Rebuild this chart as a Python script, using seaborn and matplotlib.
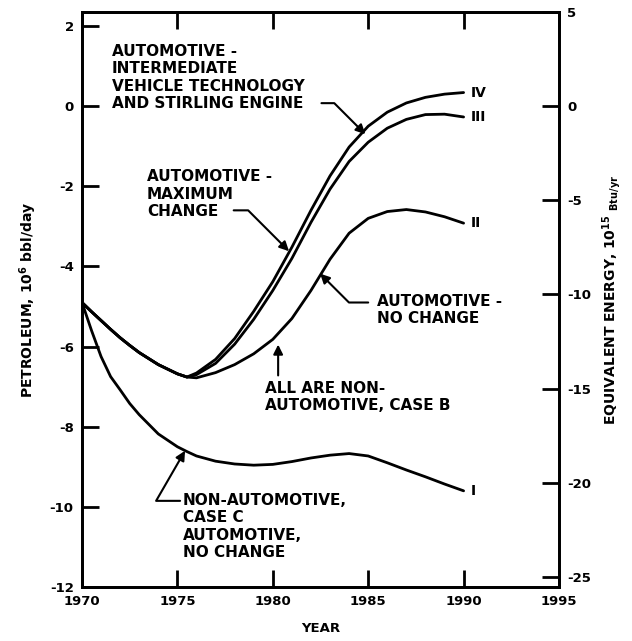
import matplotlib
matplotlib.use("Agg")
import matplotlib.pyplot as plt
import seaborn as sns
import pandas as pd

# ---- data ----
years = [1970, 1970.5, 1971, 1971.5, 1972, 1972.5, 1973, 1974, 1975, 1975.5,
         1976, 1977, 1978, 1979, 1980, 1981, 1982, 1983, 1984, 1985,
         1986, 1987, 1988, 1989, 1990]
curve_IV = [-4.9, -5.13, -5.35, -5.57, -5.78, -5.97, -6.15, -6.45, -6.68, -6.76,
            -6.66, -6.32, -5.8, -5.12, -4.38, -3.52, -2.6, -1.74, -1.02, -0.5,
            -0.15, 0.08, 0.22, 0.3, 0.34]
curve_III = [-4.9, -5.13, -5.35, -5.57, -5.78, -5.97, -6.15, -6.45, -6.68, -6.76,
             -6.7, -6.42, -5.94, -5.32, -4.6, -3.8, -2.9, -2.07, -1.38, -0.9,
             -0.55, -0.33, -0.21, -0.2, -0.27]
curve_II = [-4.9, -5.13, -5.35, -5.57, -5.78, -5.97, -6.15, -6.45, -6.68, -6.76,
            -6.78, -6.65, -6.45, -6.18, -5.82, -5.3, -4.6, -3.82, -3.17, -2.8,
            -2.63, -2.58, -2.64, -2.76, -2.92]
curve_I = [-4.9, -5.6, -6.25, -6.75, -7.08, -7.42, -7.7, -8.18, -8.5, -8.62,
           -8.73, -8.86, -8.93, -8.96, -8.94, -8.87, -8.78, -8.71, -8.67, -8.73,
           -8.9, -9.08, -9.25, -9.43, -9.6]
curve_names = ["I", "II", "III", "IV"]
left_ticks = [-12, -10, -8, -6, -4, -2, 0, 2]
right_ticks = [-25, -20, -15, -10, -5, 0, 5]
x_ticks = [1970, 1975, 1980, 1985, 1990, 1995]

series = {"I": curve_I, "II": curve_II, "III": curve_III, "IV": curve_IV}
df = pd.concat([pd.DataFrame({"year": years, "value": v, "curve": k})
                for k, v in series.items()], ignore_index=True)

sns.set_style("ticks")
plt.rcParams["font.family"] = ["DejaVu Sans"]
plt.rcParams["font.weight"] = "bold"
for key in ["text.color", "axes.labelcolor", "xtick.color", "ytick.color", "axes.edgecolor"]:
    plt.rcParams[key] = "black"

fig = plt.figure(figsize=(6.32, 6.41), dpi=100)
ax = fig.add_axes([82 / 632, 1 - 587 / 641, (559 - 82) / 632, (587 - 12) / 641])

sns.lineplot(data=df, x="year", y="value", hue="curve", hue_order=curve_names,
             palette=["black"] * 4, estimator=None, legend=False,
             linewidth=2.0, ax=ax)

ax.set_xlim(1970, 1995)
ax.set_ylim(-12, 2.35)
ax.set_xticks(x_ticks)
ax.set_xticklabels([str(t) for t in x_ticks])
ax.set_yticks(left_ticks)
ax.set_yticklabels([str(t) for t in left_ticks])
for s in ax.spines.values():
    s.set_linewidth(2.0)
    s.set_visible(True)
ax.tick_params(direction="in", length=12, width=2, top=True, labelsize=9.5, pad=6)
ax.set_xlabel("YEAR", fontsize=9.5, fontweight="bold", labelpad=10)
ax.set_ylabel("PETROLEUM, 10$^{6}$ bbl/day", fontsize=10, fontweight="bold", labelpad=8)

ax2 = ax.twinx()
factor = 2.128
ax2.set_ylim(-12 * factor, 2.35 * factor)
ax2.set_yticks(right_ticks)
ax2.set_yticklabels([str(t) for t in right_ticks])
ax2.tick_params(direction="in", length=12, width=2, labelsize=9.5, pad=6)
for s in ax2.spines.values():
    s.set_linewidth(2.0)
ax2.set_ylabel("EQUIVALENT ENERGY, 10$^{15}$ $_{\\mathrm{Btu/yr}}$", fontsize=10,
               fontweight="bold", labelpad=6)

tk = dict(fontsize=11, fontweight="bold", va="top", ha="left", linespacing=1.2)
ax.text(1971.57, 1.55, "AUTOMOTIVE -\nINTERMEDIATE\nVEHICLE TECHNOLOGY\nAND STIRLING ENGINE", **tk)
ax.text(1973.4, -1.58, "AUTOMOTIVE -\nMAXIMUM\nCHANGE", **tk)
ax.text(1985.47, -4.68, "AUTOMOTIVE -\nNO CHANGE", **tk)
ax.text(1979.6, -6.85, "ALL ARE NON-\nAUTOMOTIVE, CASE B", **tk)
ax.text(1975.3, -9.65, "NON-AUTOMOTIVE,\nCASE C\nAUTOMOTIVE,\nNO CHANGE", **tk)

for name in curve_names:
    ax.text(1990.4, series[name][-1], name, fontsize=10, fontweight="bold",
            va="center", ha="left")

def arrow(start, tip, style):
    ax.annotate("", xy=tip, xytext=start,
                arrowprops=dict(arrowstyle="-|>", color="black", lw=1.5,
                                connectionstyle=style, mutation_scale=14,
                                shrinkA=0, shrinkB=0))

arrow((1982.55, 0.075), (1984.85, -0.70), "angle,angleA=0,angleB=-45,rad=0")
arrow((1977.95, -2.6), (1980.85, -3.62), "angle,angleA=0,angleB=-45,rad=0")
arrow((1985.0, -4.9), (1982.48, -4.18), "angle,angleA=0,angleB=135,rad=0")
arrow((1980.28, -6.72), (1980.28, -5.95), "arc3,rad=0")
arrow((1975.14, -9.85), (1975.4, -8.6), "angle,angleA=0,angleB=60,rad=0")

fig.savefig("out.png", dpi=100)
